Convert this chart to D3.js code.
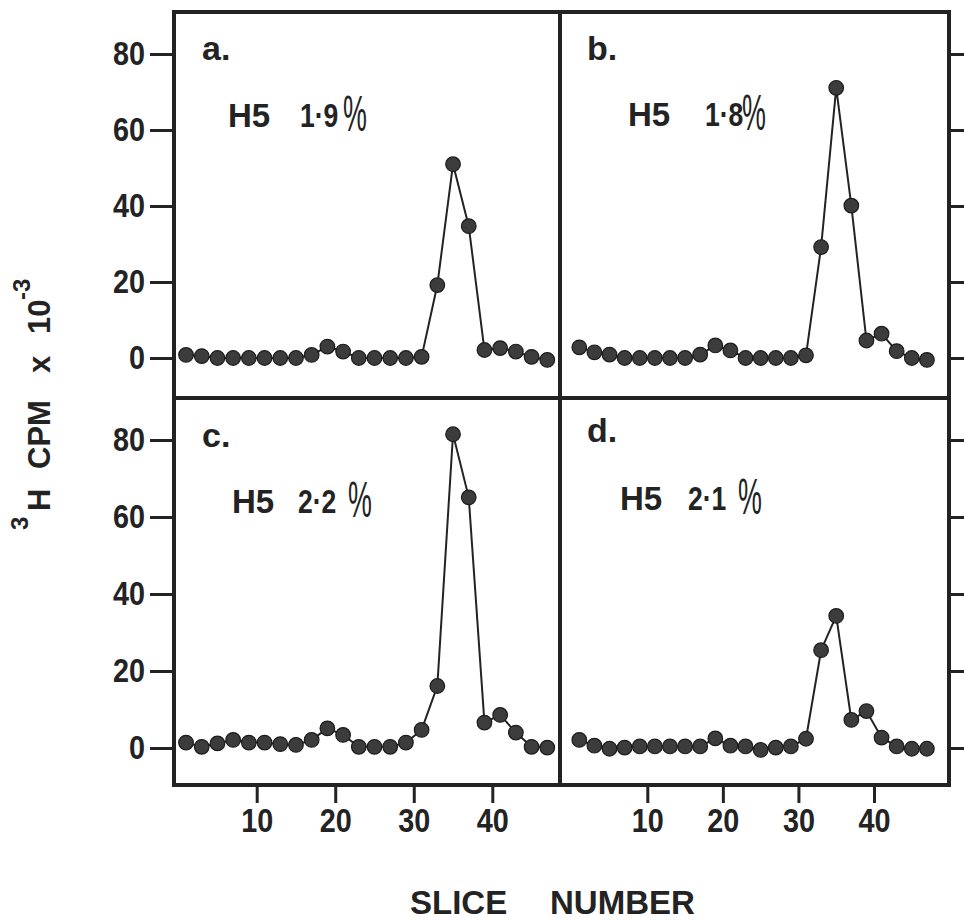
<!DOCTYPE html>
<html>
<head>
<meta charset="utf-8">
<script src="https://cdn.jsdelivr.net/npm/d3@7"></script>
<style>
  body { margin: 0; background: #fff; }
  svg text { font-family: "Liberation Sans", Arial, Helvetica, sans-serif; font-weight: bold; fill: #232323; }
</style>
</head>
<body>
<svg id="chart" width="964" height="921"></svg>
<script>
// slice numbers (every other slice was counted)
var slices = [1, 3, 5, 7, 9, 11, 13, 15, 17, 19, 21, 23, 25, 27, 29, 31, 33, 35, 37, 39, 41, 43, 45, 47];

// 3H CPM x 10^-3
var cpmA = [0.8, 0.5, 0, 0, 0, 0, 0, 0, 0.8, 3, 1.7, 0, 0, 0, 0, 0.3, 19.2, 51, 34.7, 2.1, 2.6, 1.7, 0.3, -0.5];
var cpmB = [2.8, 1.5, 0.9, 0, 0, 0, 0, 0, 0.9, 3.3, 2, 0, 0, 0, 0, 0.7, 29.2, 71.1, 40.1, 4.6, 6.4, 1.8, 0, -0.5];
var cpmC = [1.4, 0.3, 1.2, 2.1, 1.4, 1.4, 1, 0.8, 2.1, 5.1, 3.4, 0.3, 0.3, 0.3, 1.4, 4.7, 16.1, 81.5, 65.1, 6.6, 8.6, 4, 0.3, 0.1];
var cpmD = [2.1, 0.6, -0.2, 0.1, 0.4, 0.4, 0.4, 0.4, 0.4, 2.5, 0.6, 0.4, -0.5, 0.1, 0.4, 2.4, 25.4, 34.3, 7.3, 9.6, 2.7, 0.4, -0.2, -0.2];

var panelLetters = ["a.", "b.", "c.", "d."];
var panelPercents = ["1·9", "1·8", "2·2", "2·1"];

var yTicks = [0, 20, 40, 60, 80];
var xTicks = [10, 20, 30, 40];

var svg = d3.select("#chart");
var ink = "#232323";

// the scan is slightly uneven, so each column / row gets its own scale
var xLeft = d3.scaleLinear().domain([10, 40]).range([256.7, 492.3]);
var xRight = d3.scaleLinear().domain([10, 40]).range([647.3, 874]);
var yTop = d3.scaleLinear().domain([0, 80]).range([358, 54]);
var yBottom = d3.scaleLinear().domain([0, 80]).range([748, 440]);

var panels = [
  { values: cpmA, x: xLeft,  y: yTop,    box: [174, 12, 560, 398],  letter: [202, 60],  h5: [228, 127], pct: [300, 127], sign: [343, 131], axis: "left" },
  { values: cpmB, x: xRight, y: yTop,    box: [560, 12, 949, 398],  letter: [587, 60],  h5: [628, 126], pct: [705, 126], sign: [742, 130], axis: "right" },
  { values: cpmC, x: xLeft,  y: yBottom, box: [174, 398, 560, 785], letter: [202, 447], h5: [232, 513], pct: [298, 513], sign: [348, 517], axis: "left", bottom: true },
  { values: cpmD, x: xRight, y: yBottom, box: [560, 398, 949, 785], letter: [587, 442], h5: [620, 510], pct: [688, 510], sign: [738, 514], axis: "right", bottom: true }
];

panels.forEach(function(p, i) {
  var g = svg.append("g");
  var data = slices.map(function(s, j) { return [s, p.values[j]]; });

  // axes
  if (p.axis == "left") {
    g.append("g").attr("transform", "translate(" + p.box[0] + ",0)")
      .call(d3.axisLeft(p.y).tickValues(yTicks).tickSize(24).tickPadding(5))
      .call(styleAxis);
  } else {
    g.append("g").attr("transform", "translate(" + p.box[2] + ",0)")
      .call(d3.axisRight(p.y).tickValues(yTicks).tickSize(15).tickFormat(""))
      .call(styleAxis);
  }
  if (p.bottom) {
    g.append("g").attr("transform", "translate(0," + p.box[3] + ")")
      .call(d3.axisBottom(p.x).tickValues(xTicks).tickSize(18).tickPadding(5))
      .call(styleAxis);
  }

  // frame
  g.append("rect")
    .attr("x", p.box[0]).attr("y", p.box[1])
    .attr("width", p.box[2] - p.box[0]).attr("height", p.box[3] - p.box[1])
    .attr("fill", "none").attr("stroke", ink).attr("stroke-width", 4);

  // profile
  var line = d3.line().x(function(d) { return p.x(d[0]); }).y(function(d) { return p.y(d[1]); });
  g.append("path").datum(data).attr("d", line)
    .attr("fill", "none").attr("stroke", ink).attr("stroke-width", 2);
  g.selectAll("circle").data(data).enter().append("circle")
    .attr("cx", function(d) { return p.x(d[0]); })
    .attr("cy", function(d) { return p.y(d[1]); })
    .attr("r", 7.3)
    .attr("fill", "#3c3c3c").attr("stroke", "#1c1c1c").attr("stroke-width", 1.2);

  // labels
  g.append("text").attr("x", p.letter[0]).attr("y", p.letter[1]).attr("font-size", 34).text(panelLetters[i]);
  g.append("text").attr("x", p.h5[0]).attr("y", p.h5[1]).attr("font-size", 33).text("H5");
  g.append("text").attr("transform", "translate(" + p.pct[0] + "," + p.pct[1] + ") scale(0.78,1)")
    .attr("font-size", 34).text(panelPercents[i]);
  g.append("text").attr("transform", "translate(" + p.sign[0] + "," + p.sign[1] + ") scale(0.56,1.05)")
    .attr("font-size", 48).style("font-weight", "normal").text("%");
});

function styleAxis(sel) {
  sel.select(".domain").remove();
  sel.selectAll(".tick line").attr("stroke", ink).attr("stroke-width", 3);
  // tick numbers are a tall, slightly narrow bold face
  sel.selectAll(".tick text").each(function() {
    var t = d3.select(this);
    var tx = +t.attr("x") || 0, ty = +t.attr("y") || 0;
    t.attr("x", 0).attr("y", 0)
      .attr("transform", "translate(" + tx + "," + ty + ") scale(0.9,1.05)")
      .attr("font-size", 32).attr("fill", ink);
  });
}

// y title
var yTitle = svg.append("text").attr("transform", "rotate(-90)").attr("y", 50);
yTitle.append("tspan").attr("x", -530).attr("dy", -22).attr("font-size", 24).text("3");
yTitle.append("tspan").attr("x", -511).attr("dy", 22).attr("font-size", 31).text("H");
yTitle.append("tspan").attr("x", -469).attr("font-size", 31).text("CPM");
yTitle.append("tspan").attr("x", -373).attr("font-size", 31).text("x");
yTitle.append("tspan").attr("x", -334).attr("font-size", 31).text("10");
yTitle.append("tspan").attr("x", -300).attr("dy", -20).attr("font-size", 24).text("-3");

// x title
svg.append("text").attr("x", 410).attr("y", 914).attr("font-size", 33).text("SLICE");
svg.append("text").attr("x", 550).attr("y", 914).attr("font-size", 33).text("NUMBER");
</script>
</body>
</html>
